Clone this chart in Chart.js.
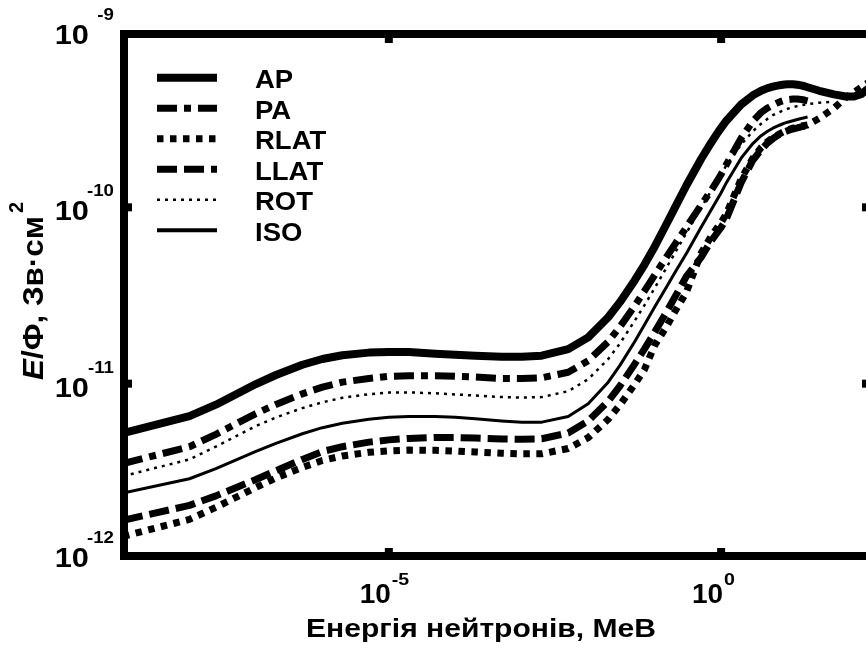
<!DOCTYPE html>
<html>
<head>
<meta charset="utf-8">
<script src="https://cdn.jsdelivr.net/npm/chart.js@4.4.0/dist/chart.umd.min.js"></script>
<style>
  html, body { margin: 0; padding: 0; overflow: hidden; background: #fff; }
  #wrap { width: 880px; height: 650px; }
</style>
</head>
<body>
<div id="wrap"><canvas id="wykres" width="880" height="650"></canvas></div>
<script>
// енергія нейтронів, МеВ
const energia = [1e-9, 1e-8, 2.5e-8, 1e-7, 2e-7, 5e-7, 1e-6, 2e-6, 5e-6, 1e-5, 2e-5, 5e-5,
  1e-4, 2e-4, 5e-4, 1e-3, 2e-3, 5e-3, 1e-2, 2e-2, 3e-2, 5e-2, 7e-2, 0.1, 0.15, 0.2, 0.3,
  0.5, 0.7, 0.9, 1, 1.2, 2, 3, 4, 5, 6, 7, 8, 9, 10, 12, 14, 15, 16, 18, 20];
const energiaDali = [30, 50, 75, 100, 130, 150, 180];
const energiaROT = energia.concat([30, 50]);

// E/Ф у пЗв·см² (x 1e-12 Зв·см²)
const AP = [5.24, 6.55, 7.60, 9.95, 11.2, 12.8, 13.8, 14.5, 15.0, 15.1, 15.1, 14.8,
  14.6, 14.4, 14.2, 14.2, 14.4, 15.7, 18.3, 23.8, 29.0, 38.5, 47.2, 59.8, 80.2, 99.0, 133,
  188, 231, 267, 282, 310, 383, 432, 458, 474, 483, 490, 494, 497, 499, 499, 496, 494, 491, 486, 480,
  458, 437, 425, 425, 440, 460, 480];
const PA = [3.52, 4.39, 5.16, 6.77, 7.63, 8.76, 9.55, 10.2, 10.7, 11.0, 11.1, 11.1,
  11.0, 10.9, 10.7, 10.7, 10.8, 11.6, 13.5, 17.3, 21.0, 27.6, 33.5, 41.3, 52.2, 61.5, 77.1,
  103, 124, 144, 154, 175, 247, 308, 345, 366, 380, 391, 399, 405, 408, 411, 411, 410, 409, 406, 402];
const RLAT = [1.36, 1.70, 1.99, 2.58, 2.92, 3.35, 3.67, 3.89, 4.08, 4.16, 4.20, 4.19,
  4.15, 4.10, 4.03, 4.00, 4.00, 4.29, 4.94, 6.28, 7.57, 9.91, 12.0, 16.5, 21.0, 25.5, 33.0,
  55, 68, 78, 82, 92, 145, 190, 218, 236, 248, 257, 264, 270, 275, 281, 285, 287, 289, 291, 293,
  320, 365, 420, 450, 480, 500, 520];
const LLAT = [1.68, 2.04, 2.31, 2.86, 3.21, 3.72, 4.12, 4.39, 4.66, 4.80, 4.89, 4.95,
  4.95, 4.92, 4.86, 4.84, 4.87, 5.25, 6.14, 7.95, 9.70, 12.9, 15.7, 19.6, 25.4, 30.8, 40.6,
  52, 64, 73, 77, 86, 138, 185, 212, 232, 245, 255, 262, 268, 272, 278, 282, 284, 286, 288, 290];
const ROT = [2.99, 3.72, 4.40, 5.75, 6.43, 7.27, 7.84, 8.31, 8.72, 8.90, 8.92, 8.82,
  8.69, 8.56, 8.40, 8.34, 8.39, 9.06, 10.6, 13.8, 16.9, 22.7, 27.8, 34.8, 45.4, 54.8, 71.6,
  99.4, 123, 144, 154, 173, 227, 270, 298, 318, 333, 343, 350, 356, 362, 370, 375, 377, 379, 382, 385,
  392, 398];
const ISO = [2.40, 2.89, 3.30, 4.13, 4.59, 5.20, 5.63, 5.96, 6.28, 6.44, 6.51, 6.51,
  6.45, 6.32, 6.14, 6.04, 6.05, 6.52, 7.70, 10.2, 12.7, 17.3, 21.5, 27.2, 35.2, 42.4, 54.7,
  77.0, 96.0, 113, 121, 138, 190, 230, 255, 270, 281, 289, 295, 300, 304, 310, 315, 317, 319, 322, 325];

const nazvy = ['AP', 'PA', 'RLAT', 'LLAT', 'ROT', 'ISO'];
const tickiY = [1e-12, 1e-11, 1e-10, 1e-9];
const tickiX = [1e-5, 1];

function punkty(en, vals) {
  return vals.map((v, i) => ({ x: en[i], y: v * 1e-12 }));
}

const FONT = '"Liberation Sans", Arial, sans-serif';

function napys(ctx, s, x, y, size, align, italic, sx) {
  ctx.save();
  ctx.font = (italic ? 'italic ' : '') + 'bold ' + size + 'px ' + FONT;
  ctx.textAlign = align;
  ctx.textBaseline = 'alphabetic';
  ctx.translate(x, y);
  ctx.scale(sx || 1.1, 1);
  ctx.fillText(s, 0, 0);
  ctx.restore();
}

// текст, розтягнутий до заданої ширини
function napysNaShyrynu(ctx, s, x, y, size, width) {
  ctx.save();
  ctx.font = 'bold ' + size + 'px ' + FONT;
  const sx = width / ctx.measureText(s).width;
  ctx.restore();
  napys(ctx, s, x, y, size, 'left', false, sx);
}

const ramka = {
  id: 'ramka',
  afterDatasetsDraw(chart) {
    const { ctx, chartArea: a, scales: { x, y } } = chart;
    ctx.save();
    ctx.fillStyle = '#000';
    ctx.strokeStyle = '#000';
    ctx.setLineDash([]);
    ctx.lineWidth = 8;
    const L = a.left + 1, R = a.right - 1, T = a.top + 3, B = a.bottom - 4;
    ctx.strokeRect(L, T, R - L, B - T);

    // внутрішні засічки
    tickiY.forEach(v => {
      const py = y.getPixelForValue(v);
      if (py < T + 6 || py > B - 6) return;
      ctx.fillRect(L, py - 4, 8, 8);
      ctx.fillRect(R - 8, py - 4, 8, 8);
    });
    tickiX.forEach(v => {
      const px = x.getPixelForValue(v);
      ctx.fillRect(px - 4, T, 8, 9);
      ctx.fillRect(px - 4, B - 8, 8, 8);
    });

    // підписи осі Y
    tickiY.forEach(v => {
      const py = y.getPixelForValue(v);
      const e = Math.round(Math.log10(v));
      const by = Math.min(py + 13, 567);
      napys(ctx, '10', 89, by, 28, 'right');
      napys(ctx, String(e), 114, by - 24, 17, 'right');
    });
    // підписи осі X
    tickiX.forEach(v => {
      const px = x.getPixelForValue(v);
      const e = Math.round(Math.log10(v));
      napys(ctx, '10', px + 2, 603, 28, 'right', false, 1.0);
      napys(ctx, String(e), px + 3, 585, 17, 'left', false, 1.15);
    });

    // назва осі X
    napysNaShyrynu(ctx, 'Енергія нейтронів, МеВ', 306, 637, 26, 350);

    // назва осі Y (повернута)
    ctx.save();
    ctx.translate(43, 380);
    ctx.rotate(-Math.PI / 2);
    ctx.textBaseline = 'alphabetic';
    ctx.textAlign = 'left';
    ctx.font = 'italic bold 30px ' + FONT;
    const wE = ctx.measureText('E').width;
    ctx.font = 'bold 30px ' + FONT;
    const t2 = '/Ф, Зв·см';
    const wT = ctx.measureText(t2).width;
    const k = 164 / (wE + wT);
    ctx.save();
    ctx.scale(k, 1);
    ctx.font = 'italic bold 30px ' + FONT;
    ctx.fillText('E', 0, 0);
    ctx.font = 'bold 30px ' + FONT;
    ctx.fillText(t2, wE, 0);
    ctx.restore();
    ctx.font = 'bold 20px ' + FONT;
    ctx.fillText('2', 167, -20);
    ctx.restore();

    // легенда
    chart.data.datasets.forEach((ds, i) => {
      const ly = 77.7 + i * 30.5;
      ctx.save();
      ctx.beginPath();
      ctx.lineWidth = ds.legendWidth || ds.borderWidth;
      ctx.lineCap = 'butt';
      ctx.setLineDash(ds.borderDash || []);
      ctx.moveTo(157, ly);
      ctx.lineTo(217, ly);
      ctx.stroke();
      ctx.restore();
      napys(ctx, ds.label, 255, ly + 10.5, 25, 'left');
    });
    ctx.restore();
  }
};

const styl = {
  AP:   { borderWidth: 8, borderDash: [] },
  PA:   { borderWidth: 7, borderDash: [20, 7, 7, 7] },
  RLAT: { borderWidth: 7, borderDash: [6.5, 6.5] },
  LLAT: { borderWidth: 7, borderDash: [20, 7] },
  ROT:  { borderWidth: 2.5, borderDash: [3, 5] },
  ISO:  { borderWidth: 3, borderDash: [], legendWidth: 4 }
};
const dani = {
  AP: [energia.concat(energiaDali), AP], PA: [energia, PA],
  RLAT: [energia.concat(energiaDali), RLAT], LLAT: [energia, LLAT],
  ROT: [energiaROT, ROT], ISO: [energia, ISO]
};

const ctx = document.getElementById('wykres');
new Chart(ctx, {
  type: 'line',
  data: {
    datasets: nazvy.map(n => Object.assign({
      label: n,
      data: punkty(dani[n][0], dani[n][1]),
      borderColor: '#000',
      backgroundColor: '#000',
      fill: false,
      pointRadius: 0,
      tension: 0,
      borderCapStyle: 'butt',
      borderJoinStyle: 'round'
    }, styl[n]))
  },
  options: {
    responsive: false,
    animation: false,
    layout: { padding: { left: 123, right: 9, top: 31, bottom: 90 } },
    plugins: { legend: { display: false }, tooltip: { enabled: false } },
    scales: {
      x: { type: 'logarithmic', min: 1e-9, max: 180, display: false },
      y: { type: 'logarithmic', min: 1e-12, max: 1e-9, display: false }
    }
  },
  plugins: [ramka]
});
</script>
</body>
</html>
